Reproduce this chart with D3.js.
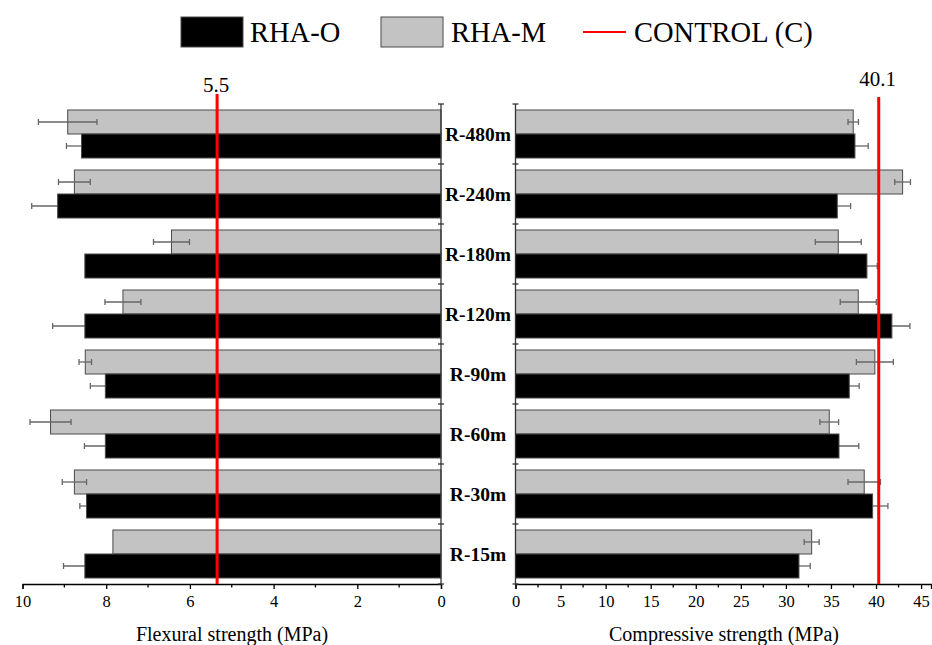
<!DOCTYPE html>
<html>
<head>
<meta charset="utf-8">
<script src="https://cdn.jsdelivr.net/npm/d3@7"></script>
<style>
	body{margin:0;background:#fff;}
	text{font-family:"Liberation Serif","Times New Roman",serif;fill:#000;}
</style>
</head>
<body>
<div id="chart"></div>
<script>
// values, top category first
var categories=["R-480m","R-240m","R-180m","R-120m","R-90m","R-60m","R-30m","R-15m"];
var series=["RHA-M","RHA-O"];

var flexO=[8.59,9.16,8.51,8.51,8.02,8.02,8.47,8.51];
var flexOErr=[0.36,0.62,0,0.77,0.36,0.50,0.16,0.51];
var flexM=[8.92,8.76,6.44,7.60,8.50,9.33,8.76,7.84];
var flexMErr=[0.70,0.38,0.43,0.43,0.15,0.49,0.29,0];

var compO=[37.66,35.70,38.99,41.76,37.03,35.89,39.62,31.45];
var compOErr=[1.47,1.48,1.14,2.00,1.10,2.20,1.70,1.25];
var compM=[37.47,42.95,35.81,38.03,39.87,34.81,38.69,32.86];
var compMErr=[0.58,0.87,2.55,2.00,2.05,1.04,1.80,0.83];

var controlPos=[5.35,40.3];      // where the red lines sit
var controlLabels=["5.5","40.1"];

var flexTicks=[0,2,4,6,8,10];
var compTicks=[0,5,10,15,20,25,30,35,40,45];

var W=932, H=645;
var plotTop=104, plotBottom=584;
var colO='#000', colM='#c3c3c3', barStroke='#4a4a4a', errColor='#666';

var svg=d3.select("#chart").append("svg").attr("width",W).attr("height",H);

var yScale=d3.scaleBand().domain(categories).range([plotTop,plotBottom]).padding(0);
var inner=d3.scaleBand().domain(series).range([0,yScale.bandwidth()]).paddingInner(0).paddingOuter(0.25);

var flexScale=d3.scaleLinear().domain([0,10]).range([441,22.5]);
var compScale=d3.scaleLinear().domain([0,46.1]).range([515.5,931]);

function rows(o,oe,m,me){
	return categories.map(function(c,i){
		return {cat:c,vals:[{s:"RHA-M",v:m[i],e:me[i]},{s:"RHA-O",v:o[i],e:oe[i]}]};
	});
}

function panel(x,data,axisX,ticks,minorStep,title,titleX,cPos,cLabel,cLabelY,cTop){
	var g=svg.append("g");
	var flat=[];
	data.forEach(function(d){d.vals.forEach(function(v){flat.push({cat:d.cat,s:v.s,v:v.v,e:v.e});});});

	function midY(d){return yScale(d.cat)+inner(d.s)+inner.bandwidth()/2;}

	function errLines(sel){
		var eg=g.selectAll(null).data(sel.filter(function(d){return d.e>0;})).enter().append("g")
			.attr("stroke",errColor).attr("stroke-width",1.3);
		eg.append("line")
			.attr("x1",function(d){return x(d.v-d.e);}).attr("x2",function(d){return x(d.v+d.e);})
			.attr("y1",midY).attr("y2",midY);
		[-1,1].forEach(function(k){
			eg.append("line")
				.attr("x1",function(d){return x(d.v+k*d.e);}).attr("x2",function(d){return x(d.v+k*d.e);})
				.attr("y1",function(d){return midY(d)-3;})
				.attr("y2",function(d){return midY(d)+3;});
		});
	}

	// black bars hide the inner half of their error bars
	errLines(flat.filter(function(d){return d.s==="RHA-O";}));

	g.selectAll("rect.bar").data(flat).enter().append("rect")
		.attr("class","bar")
		.attr("x",function(d){return Math.min(x(0),x(d.v));})
		.attr("width",function(d){return Math.abs(x(d.v)-x(0));})
		.attr("y",function(d){return yScale(d.cat)+inner(d.s);})
		.attr("height",inner.bandwidth())
		.attr("fill",function(d){return d.s==="RHA-O"?colO:colM;})
		.attr("stroke",barStroke).attr("stroke-width",1);

	errLines(flat.filter(function(d){return d.s==="RHA-M";}));

	// value axis
	var ax=d3.axisBottom(x).tickValues(ticks).tickSize(5).tickPadding(6).tickFormat(d3.format("d"));
	var axG=g.append("g").attr("transform","translate(0,"+plotBottom+")").call(ax);
	axG.attr("font-family",null).attr("font-size",null);
	axG.select(".domain").attr("stroke","#000").attr("stroke-width",1.3);
	axG.selectAll(".tick line").attr("stroke","#000").attr("stroke-width",1.3);
	axG.selectAll(".tick text").attr("font-size",16.5);
	var minors=d3.range(x.domain()[0]+minorStep,x.domain()[1],minorStep*2);
	axG.selectAll("line.minor").data(minors).enter().append("line")
		.attr("class","minor").attr("x1",x).attr("x2",x).attr("y1",0).attr("y2",3.5)
		.attr("stroke","#000").attr("stroke-width",1.3);

	// category axis
	var yAx=g.append("g").attr("transform","translate("+axisX+",0)");
	yAx.append("line").attr("y1",plotTop).attr("y2",plotBottom).attr("stroke","#333").attr("stroke-width",1.3);
	yAx.selectAll("line.tk").data(categories.concat(["_end"])).enter().append("line")
		.attr("class","tk").attr("x1",-3).attr("x2",3)
		.attr("y1",function(d){return d==="_end"?plotBottom:yScale(d);})
		.attr("y2",function(d){return d==="_end"?plotBottom:yScale(d);})
		.attr("stroke","#333").attr("stroke-width",1.3);

	g.append("text").attr("x",titleX).attr("y",641).attr("text-anchor","middle")
		.attr("font-size",20).text(title);

	// control line
	g.append("line").attr("x1",x(cPos)).attr("x2",x(cPos)).attr("y1",cTop).attr("y2",plotBottom)
		.attr("stroke","#ff0000").attr("stroke-width",3);
	g.append("text").attr("x",x(cPos)-1).attr("y",cLabelY).attr("text-anchor","middle")
		.attr("font-size",21).text(cLabel);
}

panel(flexScale,rows(flexO,flexOErr,flexM,flexMErr),441,flexTicks,1,"Flexural strength (MPa)",232,controlPos[0],controlLabels[0],92,94);
panel(compScale,rows(compO,compOErr,compM,compMErr),515.5,compTicks,2.5,"Compressive strength (MPa)",724,controlPos[1],controlLabels[1],86,97);

// category labels between the panels
svg.selectAll("text.cat").data(categories).enter().append("text")
	.attr("class","cat").attr("x",478).attr("y",function(d){return yScale(d)+yScale.bandwidth()/2;})
	.attr("dy","0.35em").attr("text-anchor","middle").attr("font-weight","bold").attr("font-size",19.5)
	.text(function(d){return d;});

// legend
var leg=svg.append("g");
leg.append("rect").attr("x",181).attr("y",17).attr("width",62).attr("height",30).attr("fill",colO).attr("stroke",barStroke);
leg.append("text").attr("x",250).attr("y",32).attr("dy","0.35em").attr("font-size",28.5).text("RHA-O");
leg.append("rect").attr("x",381).attr("y",17).attr("width",62).attr("height",30).attr("fill",colM).attr("stroke",barStroke);
leg.append("text").attr("x",451).attr("y",32).attr("dy","0.35em").attr("font-size",28.5).text("RHA-M");
leg.append("line").attr("x1",583).attr("x2",626).attr("y1",32).attr("y2",32).attr("stroke","#ff0000").attr("stroke-width",2);
leg.append("text").attr("x",634).attr("y",32).attr("dy","0.35em").attr("font-size",28.5).text("CONTROL (C)");
</script>
</body>
</html>
